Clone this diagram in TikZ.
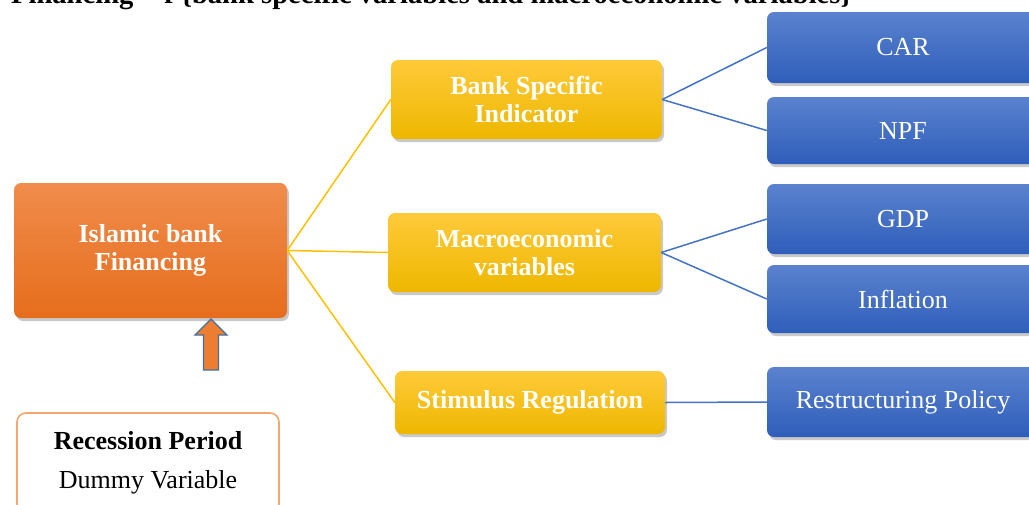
\documentclass[tikz,border=0pt]{standalone}
\usepackage{fontspec}
\setmainfont{Liberation Serif}
\usetikzlibrary{shadows}
\definecolor{orTop}{HTML}{F08C4C}
\definecolor{orBot}{HTML}{E66D1C}
\definecolor{yeTop}{HTML}{FFCA3A}
\definecolor{yeBot}{HTML}{EDB700}
\definecolor{blTop}{HTML}{5A82CE}
\definecolor{blBot}{HTML}{2F5EBA}
\definecolor{yeLine}{HTML}{FFC000}
\definecolor{blLine}{HTML}{4472C4}
\definecolor{recBorder}{HTML}{F4A66E}
\definecolor{arrFill}{HTML}{ED7D31}
\definecolor{arrLine}{HTML}{41719C}
\begin{document}
\begin{tikzpicture}[x=1pt,y=-1pt,
  box/.style={rounded corners=7pt, inner sep=0pt, align=center, text=white,
    drop shadow={shadow xshift=2pt, shadow yshift=-3pt, opacity=0.3, fill=black!70}},
  orbox/.style={box, top color=orTop, bottom color=orBot,
    font=\fontsize{26}{28.5}\selectfont\bfseries},
  yebox/.style={box, top color=yeTop, bottom color=yeBot,
    font=\fontsize{26}{28.5}\selectfont\bfseries},
  blbox/.style={box, top color=blTop, bottom color=blBot, minimum width=272pt,
    font=\fontsize{26}{30}\selectfont},
  yline/.style={draw=yeLine, line width=1.5pt},
  bline/.style={draw=blLine, line width=1.5pt},
  arrst/.style={fill=arrFill, draw=arrLine, line width=1.2pt, line join=miter}
]
\useasboundingbox (0,0) rectangle (1029,504);
\clip (0,0) rectangle (1029,504);

% cropped caption at the top (only its lower edge is inside the picture)
\node[anchor=base east, inner sep=0pt, font=\fontsize{28.6}{30}\selectfont\bfseries]
  (cap) at (852,3.5) {Financing = f \{bank specific variables and macroeconomic variables\}};

% main nodes
\node[orbox, minimum width=273pt, minimum height=135pt] (ibf) at (150.5,250.5) {Islamic bank\\Financing};

\node[yebox, minimum width=271pt, minimum height=79pt] (bsi) at (526.5,99.5) {Bank Specific\\Indicator};
\node[yebox, minimum width=273pt, minimum height=79pt] (mac) at (524.5,252.5) {Macroeconomic\\variables};
\node[yebox, minimum width=270pt, minimum height=63pt] (stim) at (530,402.5) {Stimulus Regulation};

\node[blbox, minimum height=71pt] (car) at (903,47.5) {\raisebox{-2pt}{CAR}};
\node[blbox, minimum height=67pt] (npf) at (903,130.5) {\raisebox{-2pt}{NPF}};
\node[blbox, minimum height=70pt] (gdp) at (903,219) {\raisebox{-2pt}{GDP}};
\node[blbox, minimum height=68pt] (inf) at (903,299) {\raisebox{-2pt}{Inflation}};
\node[blbox, minimum height=70pt] (rp) at (903,402) {Restructuring Policy};

% recession box
\node[draw=recBorder, line width=1.6pt, fill=white, rounded corners=9pt,
  minimum width=262pt, minimum height=100pt, align=center, inner sep=0pt,
  font=\fontsize{26}{39}\selectfont] (rec) at (148,463)
  {\textbf{Recession Period}\\Dummy Variable};

% connectors
\draw[yline] (ibf.east) -- (bsi.west);
\draw[yline] (ibf.east) -- (mac.west);
\draw[yline] (ibf.east) -- (stim.west);
\draw[bline] (bsi.east) -- (car.west);
\draw[bline] (bsi.east) -- (npf.west);
\draw[bline] (mac.east) -- (gdp.west);
\draw[bline] (mac.east) -- (inf.west);
\draw[bline] (stim.east) -- (rp.west);

% block arrow from the recession box up to the financing box
\coordinate (tip) at (211,319);
\draw[arrst] (tip) -- (227,335) -- (218.5,335) -- (218.5,370) -- (203.5,370)
  -- (203.5,335) -- (195,335) -- cycle;
\end{tikzpicture}
\end{document}
